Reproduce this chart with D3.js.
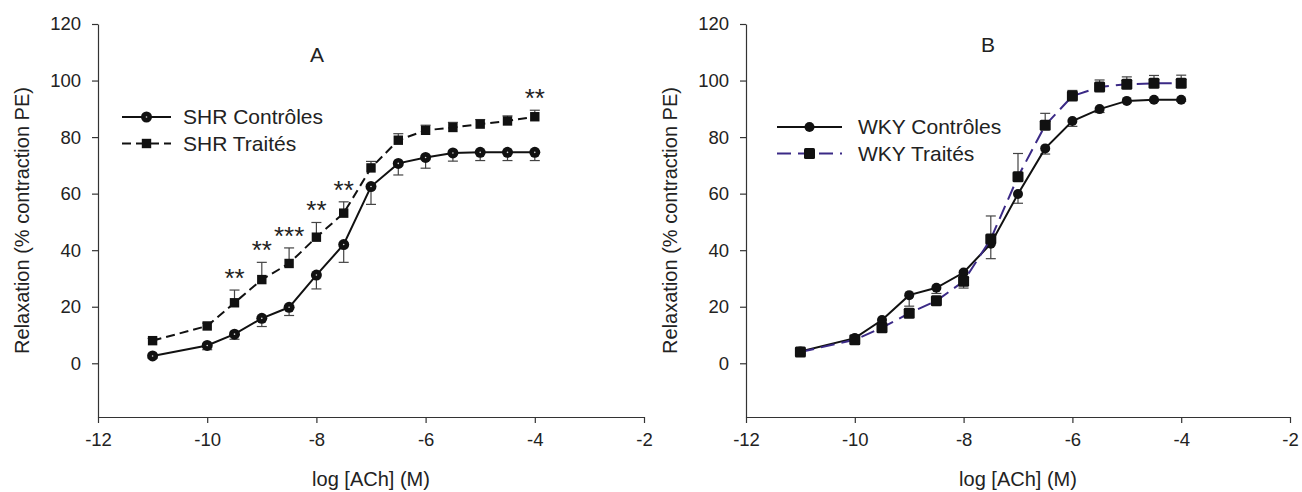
<!DOCTYPE html>
<html>
<head>
<meta charset="utf-8">
<script src="https://cdn.jsdelivr.net/npm/d3@7"></script>
<style>
  body { margin: 0; background: #fff; }
  svg { font-family: "Liberation Sans", Arial, sans-serif; }
</style>
</head>
<body>
<div id="chart"></div>
<script>
// log [ACh] concentrations (M)
const logACh = [-11, -10, -9.5, -9, -8.5, -8, -7.5, -7, -6.5, -6, -5.5, -5, -4.5, -4];
const xTicks = [-12, -10, -8, -6, -4, -2];
const yTicks = [0, 20, 40, 60, 80, 100, 120];

// panel A : SHR
const shrCtrl = [2.6, 6.3, 10.3, 15.9, 19.8, 31.2, 42.0, 62.5, 70.7, 72.8, 74.4, 74.6, 74.6, 74.6];
const shrCtrlSem = [0.8, 1.5, 1.8, 2.9, 2.9, 4.9, 6.3, 6.3, 4.1, 3.8, 2.9, 2.9, 2.9, 2.9];
const shrTrt = [8.0, 13.2, 21.4, 29.6, 35.3, 44.6, 53.1, 69.1, 78.9, 82.4, 83.4, 84.6, 85.7, 87.2];
const shrTrtSem = [0.8, 1.0, 4.5, 6.1, 5.5, 5.2, 4.0, 2.3, 2.3, 1.8, 1.8, 1.6, 1.8, 2.3];
const shrStars = ["", "", "**", "**", "***", "**", "**", "", "", "", "", "", "", "**"];

// panel B : WKY
const wkyCtrl = [4.2, 8.9, 15.3, 24.1, 26.7, 32.1, 42.3, 59.9, 76.0, 85.7, 89.9, 92.8, 93.2, 93.2];
const wkyCtrlSem = [0.8, 1.0, 1.0, 3.9, 2.0, 5.5, 5.3, 3.3, 2.0, 1.9, 1.2, 0.6, 0.5, 0.5];
const wkyTrt = [4.0, 8.3, 12.6, 17.7, 22.1, 29.0, 44.0, 66.0, 84.2, 94.5, 97.7, 98.7, 99.0, 99.0];
const wkyTrtSem = [0.8, 0.8, 1.0, 1.5, 1.0, 1.5, 8.1, 8.2, 4.2, 2.0, 2.5, 2.6, 2.8, 2.9];

const W = 1302, H = 492;
const svg = d3.select("#chart").append("svg").attr("width", W).attr("height", H);

const panels = [
  {
    left: 98, right: 644, letter: "A", letterPos: [317, 62],
    legendPos: [122, 117], legendW: 49, legendText: 183,
    series: [
      { name: "SHR Contrôles", y: shrCtrl, sem: shrCtrlSem, dir: -1, shape: "circleDot", color: "#111", dash: null },
      { name: "SHR Traités", y: shrTrt, sem: shrTrtSem, dir: 1, shape: "square", color: "#111", dash: "9,5" }
    ],
    stars: shrStars
  },
  {
    left: 746, right: 1290, letter: "B", letterPos: [988, 52],
    legendPos: [777, 127], legendW: 65, legendText: 858,
    series: [
      { name: "WKY Contrôles", y: wkyCtrl, sem: wkyCtrlSem, dir: -1, shape: "circle", color: "#111", dash: null },
      { name: "WKY Traités", y: wkyTrt, sem: wkyTrtSem, dir: 1, shape: "squareBig", color: "#3b2a86", dash: "14,7" }
    ],
    stars: null
  }
];

const plotTop = 24, plotBottom = 417;

function drawMarker(g, shape, cx, cy) {
  if (shape === "circleDot") {
    g.append("circle").attr("cx", cx).attr("cy", cy).attr("r", 5.5).attr("fill", "#111");
    g.append("circle").attr("cx", cx).attr("cy", cy).attr("r", 0.8).attr("fill", "#ddd");
  } else if (shape === "circle") {
    g.append("circle").attr("cx", cx).attr("cy", cy).attr("r", 5).attr("fill", "#111");
  } else if (shape === "square") {
    g.append("rect").attr("x", cx - 4.7).attr("y", cy - 4.7)
      .attr("width", 9.4).attr("height", 9.4).attr("fill", "#111");
  } else {
    g.append("rect").attr("x", cx - 5.5).attr("y", cy - 5.5).attr("rx", 1.5)
      .attr("width", 11).attr("height", 11).attr("fill", "#111");
  }
}

panels.forEach((p) => {
  const x = d3.scaleLinear().domain([-12, -2]).range([p.left, p.right]);
  const y = d3.scaleLinear().domain([-19, 120]).range([plotBottom, plotTop]);
  const g = svg.append("g");

  // axes (plain hyphen for negative labels, like the original)
  const xa = g.append("g").attr("transform", `translate(0,${plotBottom})`)
    .call(d3.axisBottom(x).tickValues(xTicks).tickFormat((d) => String(d))
      .tickSize(6).tickSizeOuter(0).tickPadding(10));
  const ya = g.append("g").attr("transform", `translate(${p.left},0)`)
    .call(d3.axisLeft(y).tickValues(yTicks).tickFormat((d) => String(d))
      .tickSize(6).tickSizeOuter(0).tickPadding(11));
  [xa, ya].forEach((a) => {
    a.selectAll("path,line").attr("stroke", "#333").attr("stroke-width", 1.2);
    a.selectAll("text").attr("font-size", 18.5).attr("fill", "#222")
      .attr("font-family", "Liberation Sans, Arial, sans-serif");
  });

  g.append("text").attr("x", (p.left + p.right) / 2).attr("y", 486)
    .attr("text-anchor", "middle").attr("font-size", 20).attr("fill", "#222")
    .text("log [ACh] (M)");
  g.append("text")
    .attr("transform", `translate(${p.left - 69},${(plotTop + plotBottom) / 2}) rotate(-90)`)
    .attr("text-anchor", "middle").attr("font-size", 20).attr("fill", "#222")
    .text("Relaxation (% contraction PE)");
  g.append("text").attr("x", p.letterPos[0]).attr("y", p.letterPos[1])
    .attr("text-anchor", "middle").attr("font-size", 21).attr("fill", "#222").text(p.letter);

  // series
  p.series.forEach((s) => {
    const pts = logACh.map((c, i) => ({ c, v: s.y[i], e: s.sem[i] }));
    // error bars
    const eb = g.append("g").attr("stroke", "#444").attr("stroke-width", 1.2);
    pts.forEach((d) => {
      const yEnd = y(d.v + s.dir * d.e);
      eb.append("line").attr("x1", x(d.c)).attr("x2", x(d.c)).attr("y1", y(d.v)).attr("y2", yEnd);
      eb.append("line").attr("x1", x(d.c) - 5).attr("x2", x(d.c) + 5).attr("y1", yEnd).attr("y2", yEnd);
    });
    g.append("path").datum(pts)
      .attr("fill", "none").attr("stroke", s.color).attr("stroke-width", 2)
      .attr("stroke-dasharray", s.dash)
      .attr("d", d3.line().x((d) => x(d.c)).y((d) => y(d.v)));
    const mg = g.append("g");
    pts.forEach((d) => drawMarker(mg, s.shape, x(d.c), y(d.v)));
  });

  // significance stars above the treated series
  if (p.stars) {
    const s = p.series[1];
    p.stars.forEach((st, i) => {
      if (!st) return;
      g.append("text").attr("x", x(logACh[i])).attr("y", y(s.y[i] + s.sem[i]) - 3)
        .attr("text-anchor", "middle").attr("font-size", 26).attr("fill", "#222").text(st);
    });
  }

  // legend
  p.series.forEach((s, i) => {
    const ly = p.legendPos[1] + i * 26.5;
    const lx = p.legendPos[0];
    g.append("line").attr("x1", lx).attr("x2", lx + p.legendW).attr("y1", ly).attr("y2", ly)
      .attr("stroke", s.color).attr("stroke-width", 2).attr("stroke-dasharray", s.dash);
    drawMarker(g, s.shape, lx + p.legendW / 2, ly);
    g.append("text").attr("x", p.legendText).attr("y", ly + 7)
      .attr("font-size", 21).attr("fill", "#222").text(s.name);
  });
});
</script>
</body>
</html>
